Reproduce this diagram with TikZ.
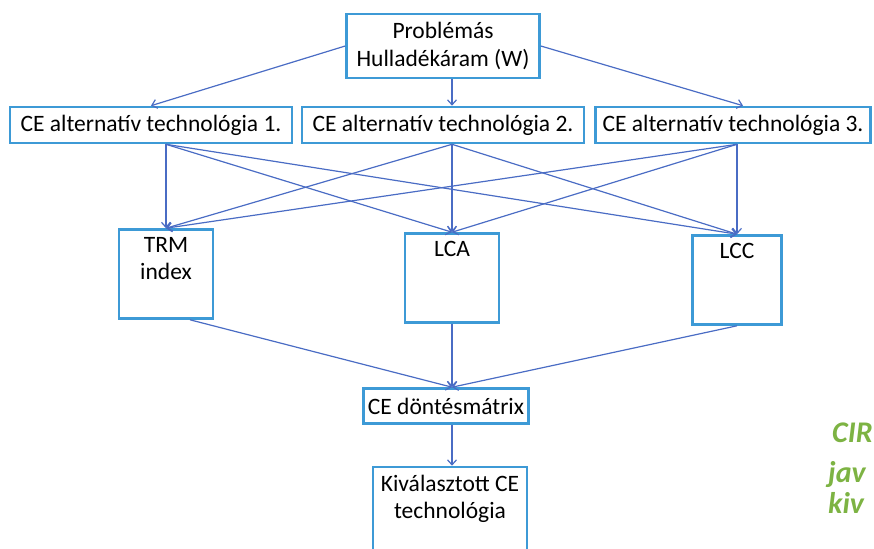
\documentclass[tikz,border=0pt]{standalone}
\usepackage{fontspec}
\setmainfont{Carlito}
\usetikzlibrary{arrows.meta}
\definecolor{boxblue}{HTML}{3D9AD6}
\definecolor{arrowblue}{HTML}{4A6CC4}
\definecolor{sidegreen}{HTML}{7DB343}
\begin{document}
\begin{tikzpicture}[
    x=1pt, y=-1pt,
    box/.style={draw=boxblue, line width=2.6pt, inner sep=0pt, align=center,
        font=\fontsize{23.5}{28}\selectfont},
    tallbox/.style={box, minimum width=#1, minimum height=89pt},
    inlabel/.style={anchor=north, yshift=-9pt, inner sep=0pt, align=center,
        font=\fontsize{23.5}{27}\selectfont},
    arr/.style={draw=arrowblue, line width=1.2pt, -{Straight Barb[length=5pt,width=9pt]}},
    sidetext/.style={anchor=base west, inner sep=0pt, text=sidegreen,
        font=\fontsize{30}{32}\selectfont\bfseries\itshape}
    ]
	\useasboundingbox (0,0) rectangle (874,548);
	% boxes
	\node [box, minimum width=193pt, minimum height=64pt] (waste) at (443,46) {Problémás\\Hulladékáram (W)};
	\node [box, minimum width=282pt, minimum height=36pt] (tech1) at (151,125) {CE alternatív technológia 1.};
	\node [box, minimum width=282pt, minimum height=36pt] (tech2) at (443,125) {CE alternatív technológia 2.};
	\node [box, minimum width=275pt, minimum height=36pt] (tech3) at (733,125) {CE alternatív technológia 3.};
	\node [tallbox=94pt, label={[inlabel]north:{TRM\\index}}] (trm) at (166,274) {};
	\node [tallbox=94pt, label={[inlabel]north:LCA}] (lca) at (452,278) {};
	\node [tallbox=89pt, label={[inlabel]north:LCC}] (lcc) at (737,280) {};
	\node [box, minimum width=165pt, minimum height=35pt] (dontes) at (446,406) {CE döntésmátrix};
	\node [box, minimum width=154pt, minimum height=110pt, label={[inlabel]north:{Kiválasztott CE\\technológia}}] (result) at (450,522) {};
	% side title, cut by the page edge
	\node [sidetext] (side1) at (832,442) {CIR};
	\node [sidetext] (side2) at (828,482) {jav};
	\node [sidetext] (side3) at (828,513) {kiv};
	% connectors
	\draw [arr] (waste.west) -- (tech1.north);
	\draw [arr] (waste.south -| lca.north) -- (tech2.north -| lca.north);
	\draw [arr] (waste.east) -- ([xshift=10pt]tech3.north);
	\foreach \src/\col in {tech1/trm, tech2/lca, tech3/lcc}
		\foreach \dst in {trm, lca, lcc}
			\draw [arr] (\src.south -| \col.north) -- (\dst.north);
	\draw [arr] ([xshift=24pt]trm.south) -- (dontes.north -| lca.south);
	\draw [arr] (lca.south) -- (dontes.north -| lca.south);
	\draw [arr] (lcc.south) -- (dontes.north -| lca.south);
	\draw [arr] (dontes.south -| lca.south) -- (result.north -| lca.south);
\end{tikzpicture}
\end{document}
